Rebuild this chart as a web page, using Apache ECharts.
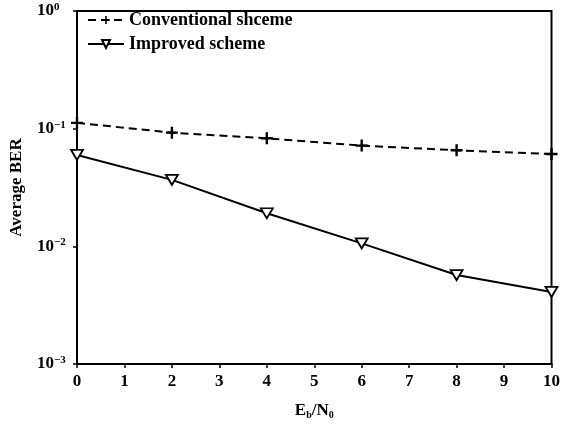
<!DOCTYPE html>
<html><head><meta charset="utf-8">
<script src="https://cdn.jsdelivr.net/npm/echarts@6/dist/echarts.min.js"></script>
<style>html,body{margin:0;padding:0;background:#fff;overflow:hidden}#c{width:563px;height:425px}</style>
</head><body><div id="c"></div>
<script>
const ebn0 = [0, 2, 4, 6, 8, 10];
const conventional = [0.112, 0.0925, 0.0828, 0.0718, 0.0655, 0.061];
const improved = [0.0598, 0.0367, 0.0191, 0.0106, 0.0057, 0.0041];
const seriesNames = ['Conventional shceme', 'Improved scheme'];

const FONT = 'Liberation Serif';
const plusPath = 'path://M4,0H6V4H10V6H6V10H4V6H0V4H4Z';
const triPath = 'path://M0,0L10,0L5,9Z';

const chart = echarts.init(document.getElementById('c'), null, {renderer:'canvas', width: 563, height: 425});
chart.setOption({
  animation: false,
  backgroundColor: '#fff',
  grid: {left: 77, right: 8, top: 11, bottom: 61, show: true, borderColor: '#000', borderWidth: 2, backgroundColor: 'transparent'},
  legend: {
    left: 82, top: 6, orient: 'vertical', itemGap: 6, itemWidth: 36, itemHeight: 10,
    textStyle: {fontFamily: FONT, fontSize: 18, fontWeight: 'bold', color: '#000'},
    data: seriesNames
  },
  xAxis: {
    type: 'value', min: 0, max: 10, interval: 1,
    name: '{m|E}{s|b}{m|/N}{s|0}', nameLocation: 'middle', nameGap: 38,
    nameTextStyle: {rich: {
      m: {fontFamily: FONT, fontSize: 17, fontWeight: 'bold', color: '#000'},
      s: {fontFamily: FONT, fontSize: 10, fontWeight: 'bold', color: '#000', verticalAlign: 'bottom', padding: [8,0,0,0]}
    }},
    axisLine: {lineStyle: {color: '#000', width: 2}},
    axisTick: {show: true, length: 4, lineStyle: {color: '#000', width: 1.5}},
    axisLabel: {fontFamily: FONT, fontSize: 17, fontWeight: 'bold', color: '#000', margin: 9},
    splitLine: {show: false}
  },
  yAxis: {
    type: 'log', logBase: 10, min: 0.001, max: 1,
    name: 'Average BER', nameLocation: 'middle', nameGap: 52, nameRotate: 90,
    nameTextStyle: {fontFamily: FONT, fontSize: 17, fontWeight: 'bold', color: '#000'},
    axisLine: {lineStyle: {color: '#000', width: 2}},
    axisTick: {show: true, length: 4, lineStyle: {color: '#000', width: 1.5}},
    minorTick: {show: false},
    splitLine: {show: false},
    axisLabel: {
      margin: 40, align: 'left',
      formatter: function(v){
        const e = Math.round(Math.log10(v));
        return '{b|10}{s|' + (e === 0 ? '0' : '\u2212' + (-e)) + '}';
      },
      rich: {
        b: {fontFamily: FONT, fontSize: 17, fontWeight: 'bold', color: '#000'},
        s: {fontFamily: FONT, fontSize: 11, fontWeight: 'bold', color: '#000', verticalAlign: 'top', padding: [0,0,8,0]}
      }
    }
  },
  series: [
    {
      name: seriesNames[0], type: 'line',
      data: ebn0.map((x,i)=>[x, conventional[i]]),
      symbol: plusPath, symbolSize: 12,
      itemStyle: {color: '#000', borderWidth: 0},
      lineStyle: {color: '#000', width: 2, type: [8,5]}
    },
    {
      name: seriesNames[1], type: 'line',
      data: ebn0.map((x,i)=>[x, improved[i]]),
      symbol: triPath, symbolSize: [12,10],
      itemStyle: {color: '#fff', borderColor: '#000', borderWidth: 1.8},
      lineStyle: {color: '#000', width: 2}
    }
  ]
});
</script>
</body></html>
